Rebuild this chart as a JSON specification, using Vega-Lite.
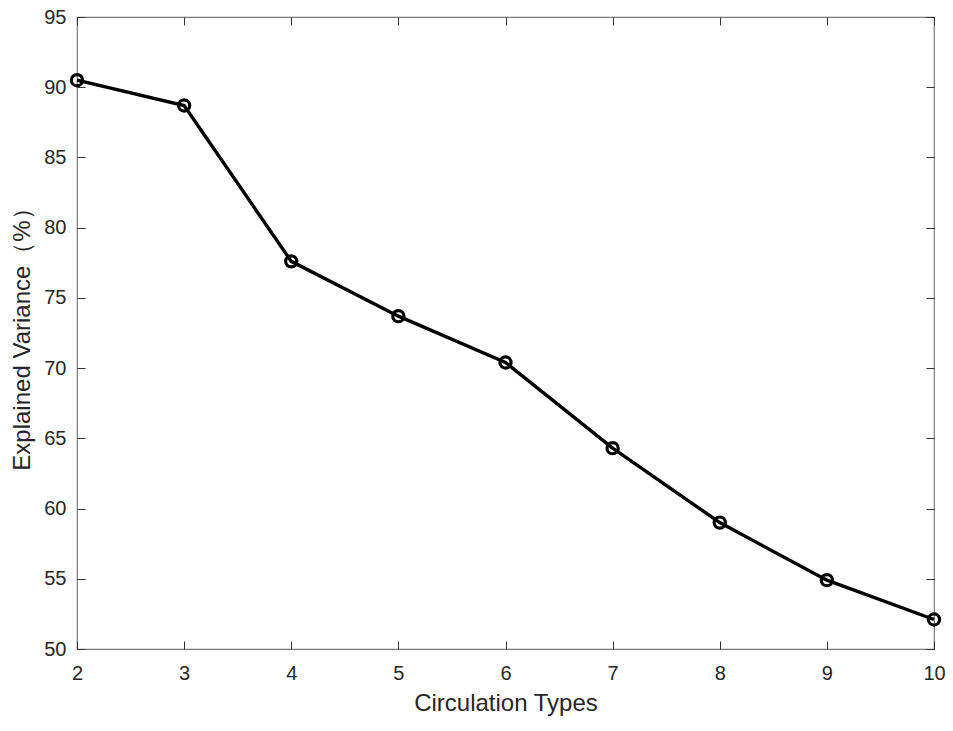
{
  "$schema": "https://vega.github.io/schema/vega-lite/v6.json",
  "width": 857,
  "height": 632,
  "autosize": {"type": "none"},
  "padding": {"left": 77, "top": 17, "right": 19, "bottom": 82},
  "background": "white",
  "config": {
    "view": {"stroke": "#7a7a7a", "strokeWidth": 1.2},
    "font": "Liberation Sans",
    "axis": {
      "grid": false,
      "domain": false,
      "tickColor": "#333333",
      "tickSize": -8,
      "tickWidth": 1,
      "labelFlush": false,
      "labelFont": "Liberation Sans",
      "labelFontSize": 20,
      "labelColor": "#262626",
      "titleFont": "Liberation Sans",
      "titleFontSize": 24,
      "titleFontWeight": "normal",
      "titleColor": "#262626"
    }
  },
  "data": {
    "values": [
      {"types": 2, "variance": 90.5},
      {"types": 3, "variance": 88.7},
      {"types": 4, "variance": 77.6},
      {"types": 5, "variance": 73.7},
      {"types": 6, "variance": 70.4},
      {"types": 7, "variance": 64.3},
      {"types": 8, "variance": 59.0},
      {"types": 9, "variance": 54.9},
      {"types": 10, "variance": 52.1}
    ]
  },
  "layer": [
    {
      "encoding": {
        "x": {
          "field": "types", "type": "quantitative",
          "scale": {"domain": [2, 10], "nice": false, "zero": false},
          "axis": {"title": "Circulation Types", "values": [2,3,4,5,6,7,8,9,10], "labelPadding": 22, "titlePadding": 8, "orient": "bottom"}
        },
        "y": {
          "field": "variance", "type": "quantitative",
          "scale": {"domain": [50, 95], "nice": false, "zero": false},
          "axis": {"title": "Explained Variance（%）", "values": [50,55,60,65,70,75,80,85,90,95], "labelPadding": 19, "titlePadding": 9, "orient": "left"}
        }
      },
      "layer": [
        {"mark": {"type": "line", "color": "black", "strokeWidth": 3.4}},
        {"mark": {"type": "point", "shape": "circle", "filled": false, "color": "black", "strokeWidth": 3.2, "size": 125, "opacity": 1}}
      ]
    },
    {
      "mark": {"type": "point", "opacity": 0},
      "encoding": {
        "x": {
          "field": "types", "type": "quantitative",
          "scale": {"domain": [2, 10], "nice": false, "zero": false},
          "axis": {"orient": "top", "title": null, "labels": false, "values": [2,3,4,5,6,7,8,9,10]}
        },
        "y": {
          "field": "variance", "type": "quantitative",
          "scale": {"domain": [50, 95], "nice": false, "zero": false},
          "axis": {"orient": "right", "title": null, "labels": false, "values": [50,55,60,65,70,75,80,85,90,95]}
        }
      }
    }
  ],
  "resolve": {"scale": {"x": "independent", "y": "independent"}, "axis": {"x": "independent", "y": "independent"}}
}
